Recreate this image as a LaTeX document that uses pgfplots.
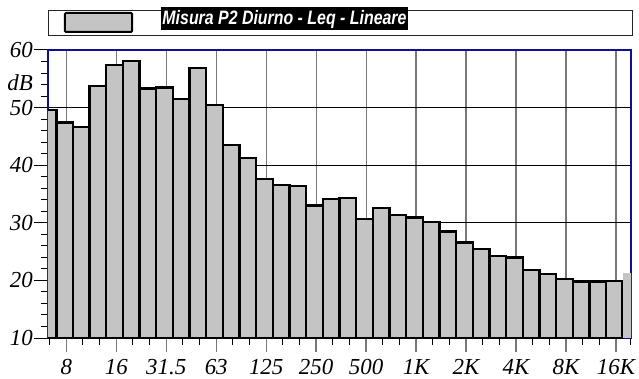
\documentclass[border=0pt]{standalone}
\usepackage{fontspec}
\setmainfont{Liberation Serif}
\newfontfamily\arialfont{Liberation Sans}
\newfontfamily\tickit{Liberation Serif Italic}
\usepackage{pgfplots}
\usepackage{pgfplotstable}
\usepackage{graphicx}
\pgfplotsset{compat=1.18}
\definecolor{barfill}{RGB}{196,196,196}
\definecolor{axnavy}{RGB}{16,16,150}
\definecolor{gridgray}{RGB}{120,120,120}
\setlength{\fboxsep}{0pt}

% band index (0 = 6.3 Hz ... 35 = 20 kHz), Leq dB
\pgfplotstableread{
x y
0 49.6
1 47.4
2 46.6
3 53.8
4 57.4
5 58.1
6 53.3
7 53.5
8 51.5
9 56.9
10 50.5
11 43.5
12 41.2
13 37.6
14 36.6
15 36.4
16 33.0
17 34.1
18 34.3
19 30.7
20 32.6
21 31.4
22 30.9
23 30.1
24 28.5
25 26.6
26 25.4
27 24.2
28 24.0
29 21.8
30 21.1
31 20.2
32 19.8
33 19.7
34 19.9
}\bands
\pgfplotstableread{
x y
35 21.2
}\lastband

\begin{document}
\begin{tikzpicture}
\begin{axis}[
  at={(0,0)}, anchor=south west,
  scale only axis, width=583bp, height=288bp,
  xmin=0, xmax=35, ymin=10, ymax=60,
  axis line style={draw=axnavy, line width=2.8bp},
  xtick={1.1,4.1,7.1,10.1,13.1,16.1,19.1,22.1,25.1,28.1,31.1,34.1},
  xticklabels={8,16,31.5,63,125,250,500,1K,2K,4K,8K,16K},
  minor xtick={0.1,2.1,3.1,5.1,6.1,8.1,9.1,11.1,12.1,14.1,15.1,17.1,18.1,20.1,21.1,23.1,24.1,26.1,27.1,29.1,30.1,32.1,33.1,34.98},
  ytick={10,20,30,40,50,60},
  yticklabels={10,20,30,40,50,60},
  extra y ticks={54.3},
  extra y tick labels={dB},
  extra y tick style={grid=none, tick style={draw=none}},
  minor y tick num=4,
  tick align=outside, tick pos=left,
  major tick length=14bp, minor tick length=7bp,
  every tick/.style={black, line width=1bp},
  major x tick style={gridgray, line width=1.4bp},
  xmajorgrids, ymajorgrids,
  x grid style={gridgray, line width=1.3bp},
  y grid style={black, line width=0.9bp},
  tick label style={font=\fontsize{23}{23}\selectfont\tickit},
  yticklabel style={font=\fontsize{23}{23}\selectfont\tickit, inner xsep=1bp},
  xticklabel style={inner ysep=0bp, yshift=-7bp},
  legend style={at={(0,1)}, anchor=south west, yshift=15bp,
    draw=black!85, line width=0.9bp, inner sep=0pt, outer sep=0pt,
    nodes={inner sep=0pt, outer sep=0pt},
    /tikz/every even column/.append style={column sep=0pt}},
]
\addplot[ybar, bar shift=0pt, bar width=1, fill=barfill, draw=black, line width=2.4bp,
  legend image code/.code={
    \path[draw=none, fill=none] (0bp,-12.5bp) rectangle (113bp,12.5bp);
    \draw[fill=barfill, draw=black, line width=2bp, rounded corners=1bp] (17bp,-9.5bp) rectangle (84bp,9.5bp);
  }] table[x=x,y=y] {\bands};
\addlegendentry{\raisebox{3.5bp}{\smash{\colorbox{black}{\rule[-10bp]{0pt}{23.5bp}\hspace{1.5bp}\raisebox{-4.8bp}{\resizebox{244bp}{\height}{\color{white}\fontsize{19.5}{20}\arialfont\bfseries\itshape Misura P2 Diurno - Leq - Lineare}}\hspace{1.5bp}}}}\hspace*{224bp}}
\addplot[ybar, bar shift=0pt, bar width=1, fill=barfill, draw=none, forget plot] table[x=x,y=y] {\lastband};
\end{axis}
\pgfresetboundingbox
\path (-48bp,-41bp) rectangle (591bp,338bp);
\end{tikzpicture}
\end{document}
